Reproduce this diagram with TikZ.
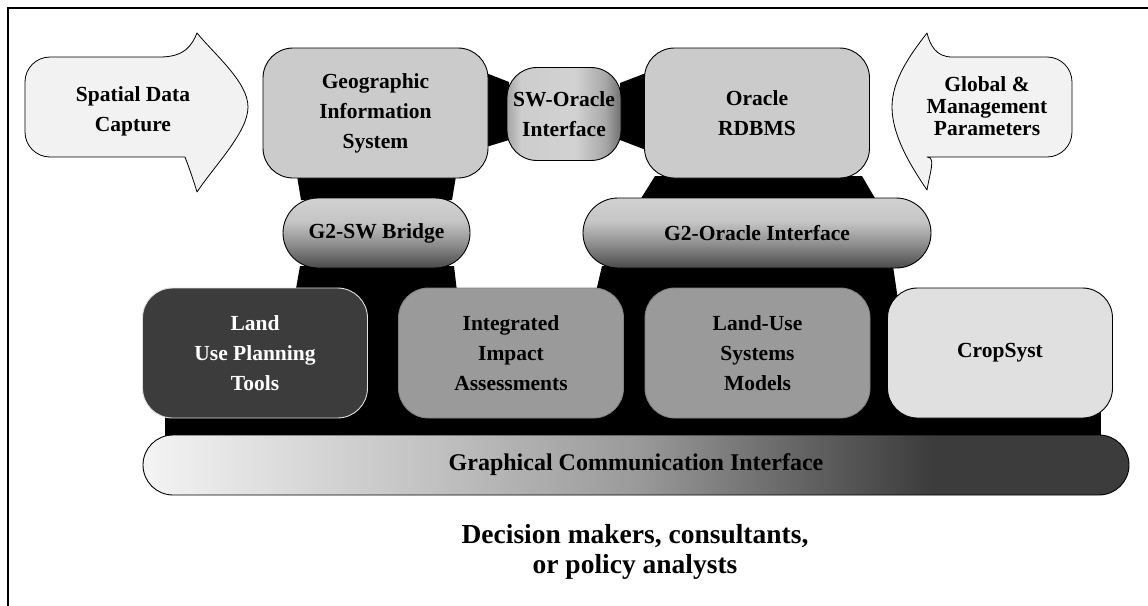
\documentclass[tikz,border=0pt]{standalone}
\usepackage{fontspec}
\setmainfont{Liberation Serif}
\definecolor{arrowfill}{HTML}{F2F2F2}
\definecolor{topgray}{HTML}{CBCBCB}
\definecolor{landgray}{HTML}{3C3C3C}
\definecolor{midgray}{HTML}{9A9A9A}
\definecolor{cropgray}{HTML}{E0E0E0}
\definecolor{gA}{HTML}{F4F4F4}
\definecolor{gB}{HTML}{C0C0C0}
\definecolor{gC}{HTML}{9A9A9A}
\definecolor{gD}{HTML}{606060}
\definecolor{gE}{HTML}{3C3C3C}
\definecolor{bA}{HTML}{D2D2D2}
\definecolor{bB}{HTML}{C4C4C4}
\definecolor{bC}{HTML}{8E8E8E}
\definecolor{bD}{HTML}{4A4A4A}
\definecolor{sA}{HTML}{A4A4A4}
\definecolor{sB}{HTML}{CDCDCD}
\definecolor{sC}{HTML}{D2D2D2}
\definecolor{sD}{HTML}{A8A8A8}
\definecolor{sE}{HTML}{707070}
\pgfdeclarehorizontalshading{gcishade}{100bp}{color(0bp)=(gA); color(25bp)=(gA); color(40bp)=(gB); color(50bp)=(gC); color(59bp)=(gD); color(65bp)=(gE); color(100bp)=(gE)}
\pgfdeclareverticalshading{brshade}{100bp}{color(0bp)=(bD); color(25bp)=(bD); color(42bp)=(bC); color(58bp)=(bB); color(75bp)=(bA); color(100bp)=(bA)}
\pgfdeclarehorizontalshading{swshade}{100bp}{color(0bp)=(sA); color(25bp)=(sA); color(31bp)=(sB); color(55bp)=(sC); color(68bp)=(sD); color(75bp)=(sE); color(100bp)=(sE)}
\newcommand\bxfont{\fontsize{21.5}{30}\selectfont\bfseries}
\begin{document}
\begin{tikzpicture}[x=1pt,y=-1pt,
  box/.style={draw=black, line width=0.9pt, rounded corners=30pt, inner sep=0pt, align=center, font=\bxfont},
  bigbox/.style={box, minimum width=225pt, minimum height=130pt},
  pill/.style={box, rounded corners=35pt, minimum height=70pt, shade, shading=brshade},
  blk/.style={fill=black},
  arrowshape/.style={draw=black, line width=0.8pt, fill=arrowfill, line join=round},
  lbl/.style={inner sep=0pt, align=center, font=\bxfont}]
\useasboundingbox (0,0) rectangle (1148,605);
\fill[white] (0,0) rectangle (1148,605);
\draw[line width=2.5pt] (1170,8) -- (8,8) -- (8,630);

% black links behind the boxes
\fill[blk] (486,73) -- (509,82) -- (509,140) -- (486,147) -- cycle;
\fill[blk] (620,83) -- (646,73) -- (646,150) -- (620,140) -- cycle;
\fill[blk] (297,176) -- (456,176) -- (452,200) -- (301,200) -- cycle;
\fill[blk] (300,266) -- (454,266) -- (458,300) -- (294,300) -- cycle;
\fill[blk] (655,176) -- (862,176) -- (876,200) -- (640,200) -- cycle;
\fill[blk] (602,266) -- (893,266) -- (898,300) -- (594,300) -- cycle;
\fill[blk] (165,295) rectangle (1101,440);

% input arrows
\draw[arrowshape, rounded corners=25pt] (160,57) -- (25,57) -- (25,157) -- (160,157)
  [rounded corners=0pt] .. controls (185,157) and (192,175) .. (197,192)
  .. controls (215,165) and (248,132) .. (248,107)
  .. controls (248,82) and (215,55) .. (197,33)
  .. controls (192,45) and (185,57) .. (160,57) -- cycle;
\node[lbl] (sdc) at (133,111) {Spatial Data\\Capture};

\draw[arrowshape, rounded corners=25pt] (952,57) -- (1072,57) -- (1072,157) -- (952,157)
  [rounded corners=0pt] .. controls (936,157) and (930,172) .. (927,190)
  .. controls (910,165) and (892,135) .. (892,107)
  .. controls (892,80) and (910,55) .. (927,33)
  .. controls (930,45) and (936,57) .. (952,57) -- cycle;
\node[lbl, font=\fontsize{21.5}{22}\selectfont\bfseries] (gmp) at (987,106) {Global \&\\Management\\Parameters};

% top row
\node[bigbox, fill=topgray] (gis) at (375.5,113) {Geographic\\Information\\System};
\node[box, shade, shading=swshade, minimum width=114pt, minimum height=93pt] (swo) at (564,114) {SW-Oracle\\Interface};
\node[bigbox, fill=topgray] (ora) at (757,113) {Oracle\\RDBMS};

% bridges
\node[pill, minimum width=187pt] (g2sw) at (376.5,233) {G2-SW Bridge};
\node[pill, minimum width=348pt] (g2ora) at (757,233) {G2-Oracle Interface};

% model row
\node[bigbox, fill=landgray, draw=white!88!black, text=white] (lupt) at (255,353) {Land\\Use Planning\\Tools};
\node[bigbox, fill=midgray, draw=midgray!85!black] (iia) at (511,353) {Integrated\\Impact\\Assessments};
\node[bigbox, fill=midgray, draw=midgray!85!black] (lusm) at (757.5,353) {Land-Use\\Systems\\Models};
\node[bigbox, fill=cropgray] (crop) at (1000,353) {CropSyst};

% graphical interface bar
\node[box, rounded corners=30pt, shade, shading=gcishade, minimum width=986pt, minimum height=60pt, font=\fontsize{24}{28}\selectfont\bfseries] (gci) at (636,465) {Graphical Communication Interface};

\node[lbl, font=\fontsize{27.5}{30}\selectfont\bfseries] (users) at (635,552) {Decision makers, consultants,\\or policy analysts};
\end{tikzpicture}
\end{document}
